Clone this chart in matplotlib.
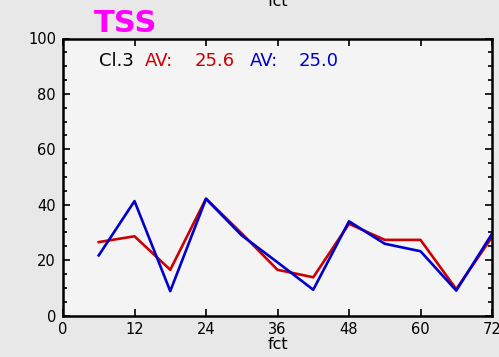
import matplotlib
matplotlib.use("Agg")
import matplotlib.pyplot as plt
from matplotlib.ticker import MultipleLocator

# forecast hours
fct = [6, 12, 18, 24, 30, 36, 42, 48, 54, 60, 66, 72]
# red series (AV 25.6) and blue series (AV 25.0)
red_vals = [26.5, 28.6, 16.5, 42.2, 29.6, 16.5, 13.8, 33.1, 27.3, 27.3, 9.5, 28.3]
blue_vals = [21.7, 41.3, 8.8, 42.1, 28.9, 19.2, 9.3, 34.0, 25.9, 23.2, 9.0, 29.5]

title = "TSS"
cl_label = "Cl.3"
red_av = "25.6"
blue_av = "25.0"

plt.rcParams["font.family"] = "DejaVu Sans"

fig = plt.figure(figsize=(4.99, 3.57), dpi=100, facecolor="#e8e8e8")
ax = fig.add_axes([63 / 499, 1 - 315.5 / 357, (492 - 63) / 499, (315.5 - 38.5) / 357])
ax.set_facecolor("#f4f4f4")

ax.plot(fct, red_vals, color="#cc0000", lw=1.9)
ax.plot(fct, blue_vals, color="#0000cc", lw=1.9)

ax.set_xlim(0, 72)
ax.set_ylim(0, 100)
ax.xaxis.set_major_locator(MultipleLocator(12))
ax.yaxis.set_major_locator(MultipleLocator(20))
ax.yaxis.set_minor_locator(MultipleLocator(5))
ax.tick_params(which="both", direction="in", top=True, right=True,
               labelsize=10.5, width=1.2, colors="black")
ax.tick_params(which="major", length=5, pad=5)
ax.tick_params(which="minor", length=3)
for s in ax.spines.values():
    s.set_linewidth(1.8)

ax.set_xlabel("fct", fontsize=11.5, labelpad=0)
fig.text(277.5 / 499, 1 - 1 / 357, "fct", ha="center", va="center", fontsize=11.5)

fig.text(126 / 499, 1 - 24 / 357, title, color="#ff00ff", fontsize=22,
         fontweight="bold", ha="center", va="center")

ty = 1 - 61 / 357
fs = 13
fig.text(99 / 499, ty, cl_label, color="black", fontsize=fs, va="center")
fig.text(145 / 499, ty, "AV:", color="#cc0000", fontsize=fs, va="center")
fig.text(195 / 499, ty, red_av, color="#cc0000", fontsize=fs, va="center")
fig.text(250 / 499, ty, "AV:", color="#0000cc", fontsize=fs, va="center")
fig.text(299 / 499, ty, blue_av, color="#0000cc", fontsize=fs, va="center")

fig.savefig("out.png", dpi=100, facecolor=fig.get_facecolor())
